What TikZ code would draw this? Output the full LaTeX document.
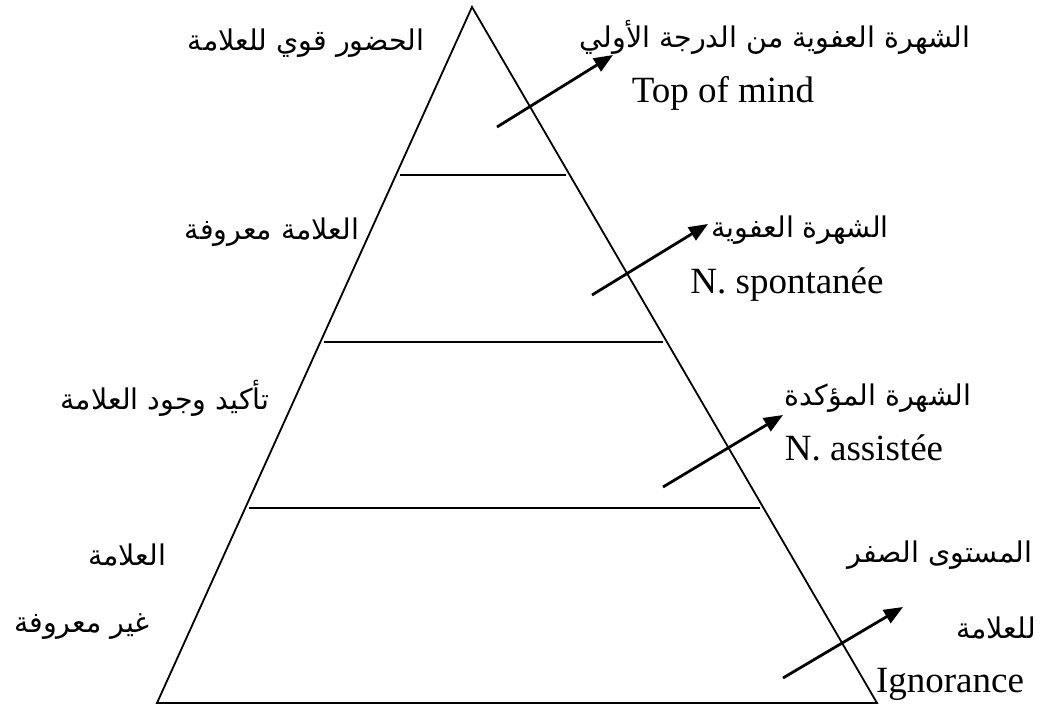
\documentclass[tikz,border=0pt]{standalone}
\usepackage{fontspec}
\setmainfont{Liberation Serif}
\newfontfamily\arabicfont[Script=Arabic]{DejaVu Sans}
\TeXXeTstate=1
\usetikzlibrary{arrows.meta,calc}

\tikzset{
  edge/.style={line width=1.8pt, line join=miter},
  level/.style={line width=1.8pt},
  pointer/.style={line width=2.8pt, -{Triangle[length=19pt,width=15pt]}},
  ar/.style={font=\arabicfont\fontsize{28.5}{34}\selectfont, inner sep=0pt},
  en/.style={font=\fontsize{37}{44}\selectfont, inner sep=0pt, anchor=base}
}

\begin{document}
\begin{tikzpicture}[x=1pt, y=-1pt]
  \useasboundingbox (0,0) rectangle (1058,706);

  % pyramid outline
  \coordinate (apex) at (472,7);
  \coordinate (bl) at (157,703);
  \coordinate (br) at (877,703);
  \draw[edge] (bl) -- (apex) -- (br) -- cycle;

  % level separators
  \foreach \t/\n in {0.2414/a, 0.4813/b, 0.7198/c} {
    \coordinate (l\n) at ($(apex)!\t!(bl)$);
    \coordinate (r\n) at ($(apex)!\t!(br)$);
    \draw[level] ($(l\n)+(4,0)$) -- ($(r\n)+(-4,0)$);
  }

  % level 1
  \node[ar] (t1L) at (306,43) {\beginR الحضور قوي للعلامة\endR};
  \node[ar] (t1R) at (775,37) {\beginR الشهرة العفوية من الدرجة الأولي\endR};
  \node[en] (t1E) at (723,103) {Top of mind};
  \coordinate (p1s) at (497,127);
  \coordinate (p1e) at (613,55);
  \draw[pointer] (p1s) -- (p1e);

  % level 2
  \node[ar] (t2L) at (272,232) {\beginR العلامة معروفة\endR};
  \node[ar] (t2R) at (800,230) {\beginR الشهرة العفوية\endR};
  \node[en] (t2E) at (787,293) {N. spontanée};
  \coordinate (p2s) at (592,295);
  \coordinate (p2e) at (708,224);
  \draw[pointer] (p2s) -- (p2e);

  % level 3
  \node[ar] (t3L) at (165,398) {\beginR تأكيد وجود العلامة\endR};
  \node[ar] (t3R) at (878,398) {\beginR الشهرة المؤكدة\endR};
  \node[en] (t3E) at (864,460) {N. assistée};
  \coordinate (p3s) at (663,487);
  \coordinate (p3e) at (783,415);
  \draw[pointer] (p3s) -- (p3e);

  % level 4
  \node[ar] (t4L1) at (127,555) {\beginR العلامة\endR};
  \node[ar] (t4L2) at (82,627) {\beginR غير معروفة\endR};
  \node[ar] (t4R1) at (940,555) {\beginR المستوى الصفر\endR};
  \node[ar] (t4R2) at (996,628) {\beginR للعلامة\endR};
  \node[en] (t4E) at (950,692) {Ignorance};
  \coordinate (p4s) at (783,678);
  \coordinate (p4e) at (903,607);
  \draw[pointer] (p4s) -- (p4e);
\end{tikzpicture}
\end{document}
